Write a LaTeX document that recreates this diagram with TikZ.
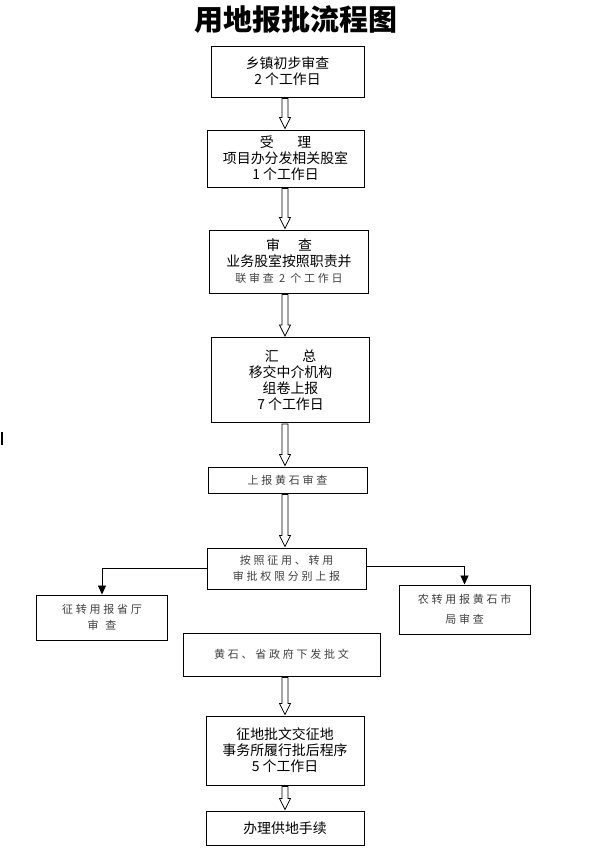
\documentclass[tikz,border=0pt]{standalone}
\usepackage{fontspec}
\usepackage{tikz}
\usetikzlibrary{arrows.meta,calc}
\newfontfamily\cjk{Noto Sans CJK SC}
\newfontfamily\cjkwide[LetterSpace=25]{Noto Sans CJK SC}
\definecolor{fgrey}{HTML}{404040}
% hollow block arrow from the bottom of #1 to the top of #2
\newcommand\hollowarr[2]{%
  \draw[line width=0.8pt, fill=white] let \p1=(#1.south), \p2=(#2.north), \p3=(arrx) in
    (\x3-3pt,\y1-1pt) -- (\x3-3pt,\y2+12pt) -- (\x3-5.5pt,\y2+12pt) -- (\x3,\y2+1pt)
    -- (\x3+5.5pt,\y2+12pt) -- (\x3+3pt,\y2+12pt) -- (\x3+3pt,\y1-1pt) -- cycle;}

\begin{document}
\begin{tikzpicture}[x=1pt, y=-1pt,
  box/.style={draw, line width=1pt, align=center, inner sep=0pt,
    font=\cjk\fontsize{13.9}{16}\selectfont},
  widebox/.style={box, text=fgrey, font=\cjkwide\fontsize{11}{20}\selectfont}]
\useasboundingbox (0,0) rectangle (593,862);
\coordinate (arrx) at (285,0);
% ---------- title ----------
\node[font=\cjk\bfseries\fontsize{29}{32}\selectfont] (title) at (296,20) {用地报批流程图};
\draw[line width=1.3pt] (2,432) -- (2,445);
% ---------- main column ----------
\node[box, minimum width=153, minimum height=51] (check) at (287.5,71.5)
  {乡镇初步审查\\2 个工作日};
\node[box, minimum width=157, minimum height=57] (accept) at (285.5,158.5)
  {受\hspace{1.7em}理\\项目办分发相关股室\\1 个工作日};
\node[box, minimum width=159, minimum height=63] (review) at (289,261.5)
  {审\hspace{1.3em}查\\业务股室按照职责并\\{\cjkwide\fontsize{11}{16}\selectfont\color{fgrey}联审查 2 个工作日}};
\node[box, minimum width=158, minimum height=85] (sum) at (290.5,380)
  {汇\hspace{1.7em}总\\移交中介机构\\组卷上报\\7 个工作日};
\node[widebox, minimum width=159, minimum height=26] (report) at (287.5,480)
  {上报黄石审查};
\node[widebox, minimum width=159, minimum height=41] (split) at (286.5,568.5)
  {按照征用、转用\\[-4pt]审批权限分别上报};
% ---------- two branches ----------
\node[widebox, minimum width=131, minimum height=45] (prov) at (102,617.5)
  {征转用报省厅\\[-4pt]审\hspace{0.6em}查};
\node[widebox, minimum width=131, minimum height=49] (city) at (464.5,609.5)
  {农转用报黄石市\\局审查};
\node[widebox, minimum width=197, minimum height=43] (issue) at (281.5,654.5)
  {黄石、省政府下发批文};
\node[box, minimum width=158, minimum height=69] (office) at (285,750.5)
  {征地批文交征地\\事务所履行批后程序\\5 个工作日};
\node[box, minimum width=158, minimum height=34] (supply) at (285,828)
  {办理供地手续};
% ---------- arrows ----------
\hollowarr{check}{accept}
\hollowarr{accept}{review}
\hollowarr{review}{sum}
\hollowarr{sum}{report}
\hollowarr{report}{split}
\hollowarr{issue}{office}
\hollowarr{office}{supply}
\draw[line width=0.9pt, -{Triangle[length=9pt,width=8pt]}] (split.west) -| (prov.north);
\draw[line width=0.9pt, -{Triangle[length=9pt,width=8pt]}] ([yshift=2.5pt]split.east) -| (city.north);
\end{tikzpicture}
\end{document}
